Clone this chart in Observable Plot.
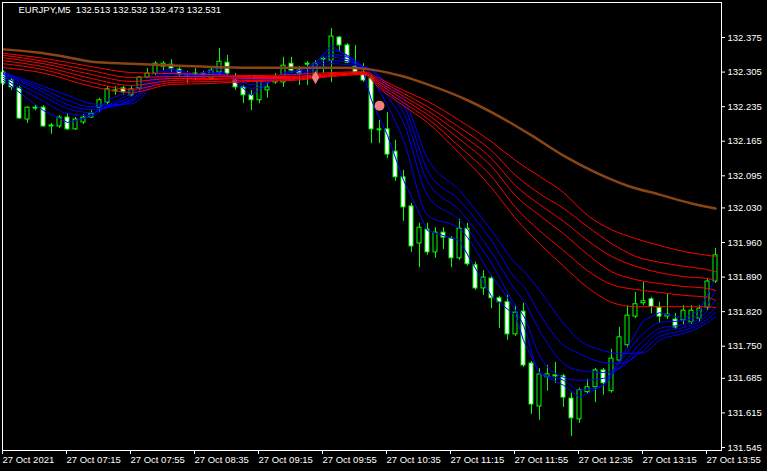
<!DOCTYPE html>
<html><head><meta charset="utf-8">
<script src="https://cdn.jsdelivr.net/npm/d3@7"></script>
<script src="https://cdn.jsdelivr.net/npm/@observablehq/plot@0.6"></script>
<style>html,body{margin:0;padding:0;background:#000;overflow:hidden}</style>
</head><body><div id="chart"></div>
<script>
const title = "EURJPY,M5\u00a0\u00a0132.513 132.532 132.473 132.531";

const opens = [132.304,132.288,132.272,132.209,132.233,132.233,132.195,132.195,132.213,132.189,
132.203,132.213,132.233,132.243,132.266,132.272,132.258,132.272,132.294,132.302,
132.316,132.320,132.310,132.298,132.300,132.302,132.292,132.304,132.324,132.290,
132.274,132.258,132.248,132.268,132.284,132.284,132.322,132.308,132.322,132.294,
132.332,132.328,132.375,132.359,132.316,132.302,132.292,132.189,132.189,132.144,
132.092,132.033,131.958,131.986,131.940,131.980,131.968,131.928,131.988,131.914,
131.867,131.887,131.847,131.839,131.774,131.820,131.715,131.628,131.687,131.689,
131.689,131.644,131.602,131.657,131.667,131.701,131.659,131.721,131.752,131.810,
131.837,131.845,131.828,131.810,131.804,131.802,131.798,131.806,131.828,131.881];
const highs = [132.308,132.292,132.276,132.235,132.239,132.237,132.201,132.217,132.221,132.213,
132.219,132.227,132.252,132.276,132.276,132.276,132.276,132.296,132.312,132.326,
132.326,132.330,132.314,132.306,132.312,132.306,132.314,132.353,132.339,132.302,
132.278,132.268,132.294,132.284,132.302,132.335,132.335,132.316,132.326,132.328,
132.335,132.393,132.377,132.363,132.359,132.322,132.298,132.207,132.223,132.167,
132.106,132.039,131.999,131.999,131.990,131.990,131.972,132.007,131.999,131.920,
131.903,131.891,131.851,131.853,131.832,131.837,131.719,131.705,131.711,131.717,
131.693,131.655,131.665,131.683,131.705,131.705,131.744,131.788,131.832,131.859,
131.879,131.849,131.839,131.855,131.816,131.832,131.832,131.832,131.887,131.948];
const lows = [132.278,132.268,132.209,132.201,132.227,132.193,132.179,132.191,132.187,132.187,
132.199,132.211,132.223,132.239,132.258,132.258,132.254,132.268,132.290,132.298,
132.308,132.302,132.296,132.282,132.288,132.290,132.288,132.298,132.296,132.268,
132.241,132.227,132.241,132.252,132.280,132.274,132.302,132.278,132.278,132.288,
132.302,132.284,132.345,132.322,132.298,132.284,132.160,132.160,132.130,132.084,
132.003,131.940,131.909,131.934,131.928,131.946,131.909,131.924,131.912,131.863,
131.853,131.826,131.786,131.762,131.770,131.707,131.612,131.600,131.659,131.675,
131.626,131.567,131.594,131.653,131.636,131.651,131.655,131.717,131.746,131.806,
131.832,131.816,131.796,131.804,131.784,131.794,131.794,131.798,131.822,131.877];
const closes = [132.282,132.274,132.211,132.233,132.232,132.195,132.197,132.213,132.189,132.209,
132.213,132.221,132.248,132.270,132.268,132.264,132.270,132.294,132.302,132.322,
132.322,132.312,132.300,132.300,132.302,132.294,132.308,132.326,132.302,132.274,
132.258,132.248,132.288,132.274,132.294,132.318,132.308,132.302,132.321,132.322,
132.331,132.377,132.359,132.324,132.302,132.288,132.189,132.188,132.138,132.092,
132.031,131.952,131.990,131.940,131.980,131.970,131.928,131.988,131.916,131.867,
131.889,131.847,131.839,131.774,131.818,131.711,131.632,131.693,131.693,131.691,
131.646,131.604,131.661,131.667,131.701,131.675,131.725,131.768,131.812,131.835,
131.841,131.830,131.810,131.814,131.788,131.822,131.822,131.826,131.881,131.934];

const xTickBars = [0,8,16,24,32,40,48,56,64,72,80,88];
const xTickLabels = ["27 Oct 2021","27 Oct 07:15","27 Oct 07:55","27 Oct 08:35","27 Oct 09:15","27 Oct 09:55",
"27 Oct 10:35","27 Oct 11:15","27 Oct 11:55","27 Oct 12:35","27 Oct 13:15","27 Oct 13:55"];
const yTicks = [132.375,132.305,132.235,132.165,132.095,132.030,131.960,131.890,131.820,131.750,131.685,131.615,131.545];

const brownBars = [0,4,8,11,16,22,31,37,43,46,50,53,58,62,66,70,74,78,82,86,89];
const brown = [132.351,132.345,132.335,132.326,132.322,132.318,132.314,132.314,132.314,132.310,132.296,132.280,132.248,132.215,132.177,132.136,132.102,132.075,132.057,132.039,132.029];

const redBars = [0,5,11,16,21,26,31,36,41,45,47,50,53,57,61,64,67,70,73,76,79,82,85,88,89];
const red1 = [132.343,132.333,132.316,132.304,132.302,132.300,132.298,132.300,132.304,132.306,132.292,132.268,132.246,132.207,132.164,132.126,132.094,132.061,132.015,131.986,131.968,131.954,131.942,131.934,131.932];
const red2 = [132.339,132.327,132.308,132.294,132.296,132.296,132.296,132.296,132.302,132.304,132.288,132.262,132.235,132.193,132.146,132.096,132.059,132.029,131.992,131.958,131.932,131.920,131.912,131.905,131.901];
const red3 = [132.334,132.322,132.300,132.286,132.292,132.292,132.294,132.294,132.300,132.304,132.284,132.256,132.227,132.181,132.130,132.075,132.037,132.003,131.964,131.932,131.912,131.899,131.891,131.887,131.883];
const red4 = [132.328,132.316,132.292,132.278,132.288,132.290,132.292,132.292,132.298,132.302,132.280,132.250,132.219,132.169,132.114,132.055,132.015,131.978,131.936,131.901,131.885,131.877,131.871,131.867,131.863];
const red5 = [132.322,132.310,132.284,132.270,132.284,132.286,132.288,132.290,132.298,132.302,132.276,132.243,132.211,132.154,132.094,132.031,131.984,131.944,131.903,131.875,131.865,131.859,131.853,131.849,131.843];
const red6 = [132.314,132.303,132.276,132.264,132.280,132.282,132.286,132.288,132.296,132.300,132.272,132.237,132.203,132.140,132.071,132.009,131.958,131.912,131.869,131.839,131.830,131.830,131.830,131.830,131.828];

const blueBars = [0,5,8,11,13,16,19,21,24,27,31,35,37,39,41,43,45,46,48,50,53,57,61,64,65,67,70,72,75,77,80,82,85,87,89];
const blue1 = [132.288,132.227,132.203,132.215,132.248,132.268,132.304,132.312,132.300,132.312,132.258,132.304,132.308,132.324,132.359,132.337,132.304,132.248,132.177,132.086,131.984,131.964,131.851,131.812,131.762,131.695,131.671,131.646,131.671,131.721,131.802,131.818,131.806,131.822,131.887];
const blue2 = [132.292,132.246,132.221,132.217,132.237,132.262,132.296,132.308,132.300,132.304,132.272,132.300,132.308,132.324,132.349,132.339,132.312,132.292,132.237,132.167,132.015,131.988,131.893,131.822,131.792,131.697,131.681,131.661,131.671,131.717,131.776,131.798,131.802,131.814,131.863];
const blue3 = [132.296,132.256,132.231,132.223,132.235,132.256,132.292,132.304,132.298,132.302,132.280,132.296,132.304,132.320,132.341,132.335,132.316,132.302,132.256,132.203,132.055,132.005,131.918,131.832,131.812,131.731,131.687,131.681,131.685,131.707,131.762,131.786,131.794,131.806,131.843];
const blue4 = [132.300,132.264,132.239,132.229,132.233,132.250,132.288,132.300,132.298,132.300,132.288,132.294,132.300,132.316,132.335,132.330,132.316,132.308,132.268,132.223,132.084,132.025,131.940,131.863,131.843,131.782,131.715,131.701,131.697,131.705,131.750,131.778,131.788,131.800,131.828];
const blue5 = [132.302,132.270,132.248,132.235,132.235,132.246,132.284,132.296,132.296,132.298,132.290,132.292,132.298,132.312,132.328,132.326,132.316,132.310,132.276,132.239,132.106,132.045,131.964,131.887,131.871,131.816,131.752,131.735,131.717,131.715,131.741,131.770,131.782,131.794,131.818];
const blue6 = [132.304,132.276,132.258,132.241,132.239,132.241,132.280,132.292,132.294,132.296,132.292,132.290,132.294,132.308,132.322,132.320,132.314,132.310,132.280,132.252,132.130,132.065,131.984,131.918,131.903,131.863,131.796,131.762,131.741,131.735,131.737,131.762,131.776,131.788,131.810];

const diamondBars = [39], diamondPrices = [132.294];
const circleBars = [47], circlePrices = [132.237];

const start = Date.UTC(2021, 9, 27, 6, 35);
const t = i => new Date(start + i * 300000);
const bars = opens.map((o, i) => ({i, t: t(i), o, h: highs[i], l: lows[i], c: closes[i]}));
const dojis = bars.filter(d => Math.abs(d.o - d.c) < 0.003);
const series = (keys, vals) => keys.map((k, j) => ({t: t(k), p: vals[j]}));
const labelMap = new Map(xTickBars.map((b, j) => [+t(b), xTickLabels[j]]));

const lineMark = (keys, vals, color, width, curve) =>
  Plot.line(series(keys, vals), {x: "t", y: "p", stroke: color, strokeWidth: width, curve});

const chart = Plot.plot({
  width: 767, height: 471,
  marginLeft: 2, marginTop: 2, marginRight: 46, marginBottom: 21,
  style: {background: "#000", color: "#fff", fontFamily: "'Liberation Sans', Arial, sans-serif", fontSize: "9.5px"},
  x: {type: "utc", domain: [t(-0.125), t(89.75)], label: null},
  y: {domain: [131.5389, 132.4459], label: null},
  marks: [
    Plot.ruleX(bars, {x: "t", y1: "l", y2: "h", stroke: "#00ff00"}),
    Plot.rect(bars, {x1: d => t(d.i - 0.25), x2: d => t(d.i + 0.25), y1: "o", y2: "c",
      fill: d => d.c < d.o ? "#ffffff" : "#000000", stroke: "#00ff00"}),
    Plot.ruleY(dojis, {y: "c", x1: d => t(d.i - 0.25), x2: d => t(d.i + 0.25), stroke: "#00ff00"}),
    lineMark(blueBars, blue6, "#0000ff", 1, "monotone-x"),
    lineMark(blueBars, blue5, "#0000ff", 1, "monotone-x"),
    lineMark(blueBars, blue4, "#0000ff", 1, "monotone-x"),
    lineMark(blueBars, blue3, "#0000ff", 1, "monotone-x"),
    lineMark(blueBars, blue2, "#0000ff", 1, "monotone-x"),
    lineMark(blueBars, blue1, "#0000ff", 1, "linear"),
    lineMark(redBars, red1, "#ff0000", 1, "monotone-x"),
    lineMark(redBars, red2, "#ff0000", 1, "monotone-x"),
    lineMark(redBars, red3, "#ff0000", 1, "monotone-x"),
    lineMark(redBars, red4, "#ff0000", 1, "monotone-x"),
    lineMark(redBars, red5, "#ff0000", 1, "monotone-x"),
    lineMark(redBars, red6, "#ff0000", 1, "monotone-x"),
    lineMark(brownBars, brown, "#8b4513", 2.5, "monotone-x"),
    Plot.dot(series(diamondBars, diamondPrices), {x: "t", y: "p", symbol: "diamond", r: 4, fill: "#f08080"}),
    Plot.dot(series(circleBars, circlePrices), {x: "t", y: "p", r: 5, fill: "#f08080"}),
    Plot.frame({stroke: "#ffffff"}),
    Plot.axisY(yTicks, {anchor: "right", label: null, tickSize: 3, tickPadding: 3, tickFormat: d => d.toFixed(3), stroke: "#fff", fill: "#fff"}),
    Plot.axisX(xTickBars.map(t), {anchor: "bottom", label: null, tickSize: 4, tickPadding: 2, tickFormat: d => labelMap.get(+d),
      textAnchor: "start", dx: -1, stroke: "#fff", fill: "#fff"}),
    Plot.text([title], {frameAnchor: "top-left", dx: 16, dy: 4, lineAnchor: "top", textAnchor: "start", fill: "#fff", text: d => d})
  ]
});
document.getElementById("chart").appendChild(chart);
</script>
</body></html>
